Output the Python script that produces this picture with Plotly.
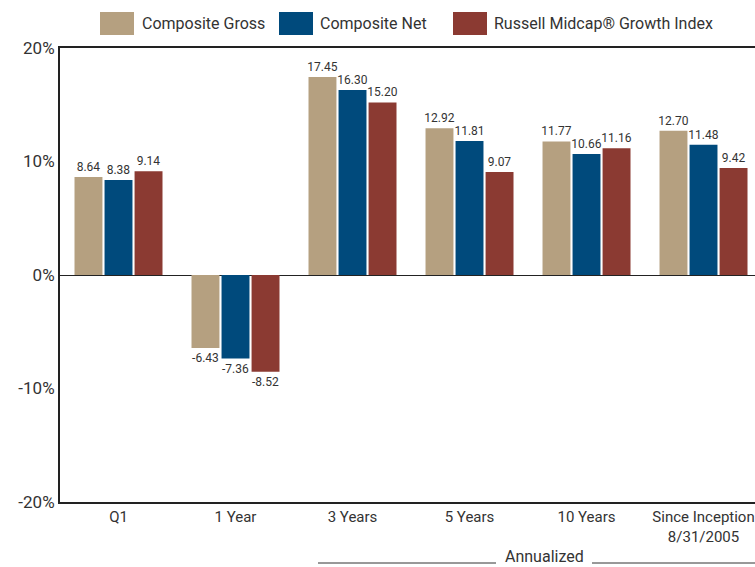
import plotly.graph_objects as go

categories = ["Q1", "1 Year", "3 Years", "5 Years", "10 Years", "Since Inception<br>8/31/2005"]
series_names = ["Composite Gross", "Composite Net", "Russell Midcap® Growth Index"]
gross = [8.64, -6.43, 17.45, 12.92, 11.77, 12.70]
net = [8.38, -7.36, 16.30, 11.81, 10.66, 11.48]
russell = [9.14, -8.52, 15.20, 9.07, 11.16, 9.42]
colors = ["#B5A080", "#004A7C", "#8B3A32"]
y_ticks = [-20, -10, 0, 10, 20]
y_ticklabels = ["-20%", "-10%", "0%", "10%", "20%"]

FONT = "Roboto, Liberation Sans, sans-serif"
TXT = "#333333"

W, H = 755, 567
ML, MT, MB, MR = 60, 48, 65, 0
PW, PH = W - ML - MR, H - MT - MB

def px_x(px):
    return (px - ML) / PW

def px_y(py):
    return (H - MB - py) / PH

fig = go.Figure()
for name, vals, col in zip(series_names, [gross, net, russell], colors):
    fig.add_trace(go.Bar(
        x=categories, y=vals, name=name, marker_color=col,
        marker_line_width=0,
        text=[f"{v:.2f}" for v in vals], textposition="outside",
        constraintext="none",
        textfont=dict(family=FONT, size=12, color=TXT),
        cliponaxis=False, showlegend=False, hoverinfo="skip",
    ))

fig.update_layout(
    width=W, height=H,
    margin=dict(l=ML, r=MR, t=MT, b=MB, autoexpand=False),
    paper_bgcolor="white", plot_bgcolor="white",
    barmode="group", bargap=0.23, bargroupgap=0.07,
    font=dict(family=FONT, color=TXT),
    showlegend=False,
)
fig.update_xaxes(
    type="category", range=[-0.5, 5.44], automargin=False,
    showline=True, linecolor="#222222", linewidth=2, mirror=True,
    ticks="", showgrid=False,
    tickfont=dict(family=FONT, size=15, color=TXT),
)
fig.update_yaxes(
    range=[-20, 20], tickvals=y_ticks, ticktext=y_ticklabels, automargin=False,
    showline=True, linecolor="#222222", linewidth=2,
    showgrid=False, zeroline=True, zerolinecolor="#222222", zerolinewidth=1,
    ticks="", tickfont=dict(family=FONT, size=17, color=TXT),
)

# Custom legend
legend_items = [(100, 134, 140), (279, 313, 318), (453, 487, 492)]
for (x0, x1, tx), name, col in zip(legend_items, series_names, colors):
    fig.add_shape(type="rect", xref="paper", yref="paper",
                  x0=px_x(x0), x1=px_x(x1), y0=px_y(35), y1=px_y(12),
                  fillcolor=col, line_width=0)
    fig.add_annotation(xref="paper", yref="paper", x=px_x(tx), y=px_y(23.5),
                       text=name, showarrow=False, xanchor="left", yanchor="middle",
                       font=dict(family=FONT, size=16, color=TXT))

# Annualized bracket
fig.add_shape(type="line", xref="paper", yref="paper",
              x0=px_x(318), x1=px_x(496), y0=px_y(563), y1=px_y(563),
              line=dict(color="#333333", width=1))
fig.add_shape(type="line", xref="paper", yref="paper",
              x0=px_x(592), x1=px_x(755), y0=px_y(563), y1=px_y(563),
              line=dict(color="#333333", width=1))
fig.add_annotation(xref="paper", yref="paper", x=px_x(544), y=px_y(556),
                   text="Annualized", showarrow=False, xanchor="center", yanchor="middle",
                   font=dict(family=FONT, size=16, color=TXT))

fig.write_html("out.html", config={"displayModeBar": False})

# remove default page margin so the figure sits at the window's top-left corner
with open("out.html", encoding="utf-8") as f:
    html = f.read()
html = html.replace("<body>", '<body style="margin:0;overflow:hidden">', 1)
with open("out.html", "w", encoding="utf-8") as f:
    f.write(html)
